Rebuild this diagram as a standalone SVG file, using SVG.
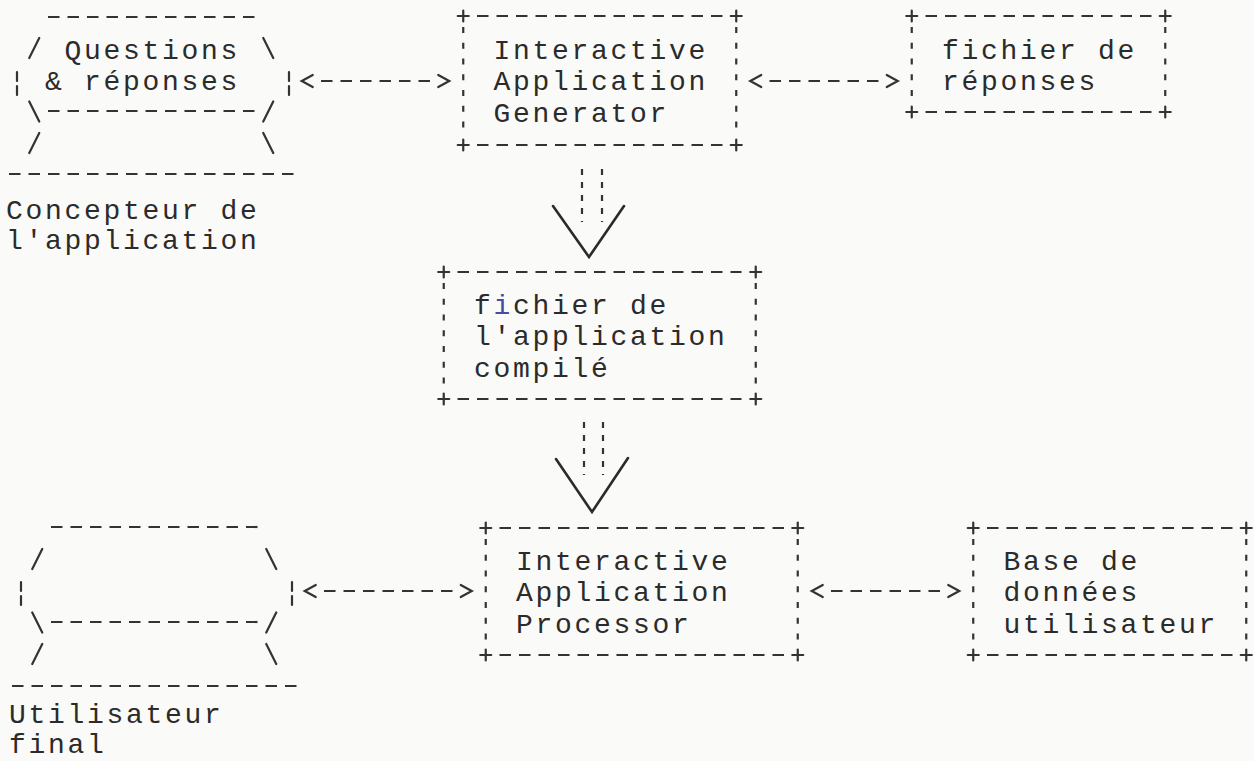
<svg xmlns="http://www.w3.org/2000/svg" xmlns:xlink="http://www.w3.org/1999/xlink" width="1254" height="761" viewBox="0 0 1254 761">
<style>
  .t { font-family: "Liberation Mono", "DejaVu Sans Mono", monospace; font-size: 28px; letter-spacing: 2.7px; fill: #2b2b2b; }
  .d { fill: none; stroke: #333; stroke-width: 2.2; stroke-dasharray: 11.5 8; }
  .v { fill: none; stroke: #333; stroke-width: 2.2; stroke-dasharray: 6 9.75; }
  .s { fill: none; stroke: #333; stroke-width: 2.2; stroke-linecap: round; }
  .dd { fill: none; stroke: #333; stroke-width: 2.2; stroke-dasharray: 6 7; }
  .big { fill: none; stroke: #2b2b2b; stroke-width: 2.6; stroke-linecap: round; stroke-linejoin: miter; }
</style>
<defs>
  <path id="plus" d="M-5.5,0 H5.5 M0,-5.5 V5.5" class="s"/>
  <path id="chevL" d="M5.5,-6 L-5.5,0 L5.5,6" class="s"/>
  <path id="chevR" d="M-5.5,-6 L5.5,0 L-5.5,6" class="s"/>
  <path id="bar" d="M0,-11 V-2 M0,3 V12" class="s"/>
</defs>
<rect x="0" y="0" width="1254" height="761" fill="#fafaf8"/>

<!-- Concepteur de l'application (top hexagon) -->
<g id="concepteur">
  <path class="d" d="M48,17 H254.5"/>
  <path class="s" d="M29.25,58 L39.25,38 M263.25,38 L273.25,58"/>
  <use xlink:href="#bar" x="17" y="83"/>
  <use xlink:href="#bar" x="289" y="83"/>
  <path class="s" d="M29.25,101.5 L39.25,121.5 M263.25,121.5 L273.25,101.5"/>
  <path class="d" d="M48,111 H254.5"/>
  <path class="s" d="M29.25,153 L39.25,133 M263.25,133 L273.25,153"/>
  <path class="d" d="M9,174 H293.5"/>
  <text class="t" x="64.5" y="58.5">Questions</text>
  <text class="t" x="45" y="90">&amp; réponses</text>
  <text class="t" x="6" y="219">Concepteur de</text>
  <text class="t" x="6" y="249">l'application</text>
</g>

<!-- Interactive Application Generator -->
<g id="generator">
  <use xlink:href="#plus" x="463.25" y="16"/>
  <use xlink:href="#plus" x="736.25" y="16"/>
  <use xlink:href="#plus" x="463.25" y="145"/>
  <use xlink:href="#plus" x="736.25" y="145"/>
  <path class="d" d="M477,16 H722.5 M477,145 H722.5"/>
  <path class="v" d="M463.25,27 V137 M736.25,27 V137"/>
  <text class="t" x="493.5" y="58.5">Interactive</text>
  <text class="t" x="493.5" y="90">Application</text>
  <text class="t" x="493.5" y="121.5">Generator</text>
</g>

<!-- fichier de réponses -->
<g id="fichier-reponses">
  <use xlink:href="#plus" x="911.75" y="16"/>
  <use xlink:href="#plus" x="1165.25" y="16"/>
  <use xlink:href="#plus" x="911.75" y="112"/>
  <use xlink:href="#plus" x="1165.25" y="112"/>
  <path class="d" d="M925.5,16 H1151.5 M925.5,112 H1151.5"/>
  <path class="v" d="M911.75,27 V104 M1165.25,27 V104"/>
  <text class="t" x="942" y="58.5">fichier de</text>
  <text class="t" x="942" y="90">réponses</text>
</g>

<!-- fichier de l'application compilé -->
<g id="fichier-compile">
  <use xlink:href="#plus" x="443.75" y="272"/>
  <use xlink:href="#plus" x="755.75" y="272"/>
  <use xlink:href="#plus" x="443.75" y="399"/>
  <use xlink:href="#plus" x="755.75" y="399"/>
  <path class="d" d="M457.5,272 H741.5 M457.5,399 H741.5"/>
  <path class="v" d="M443.75,283 V391 M755.75,283 V391"/>
  <text class="t" x="474" y="313.5">f<tspan fill="#4a4aa8">i</tspan>chier de</text>
  <text class="t" x="474" y="345">l'application</text>
  <text class="t" x="474" y="376.5">compilé</text>
</g>

<!-- Utilisateur final (bottom hexagon) -->
<g id="utilisateur">
  <path class="d" d="M51,527 H257.5"/>
  <path class="s" d="M32.25,569 L42.25,549 M266.25,549 L276.25,569"/>
  <use xlink:href="#bar" x="21" y="593"/>
  <use xlink:href="#bar" x="292" y="593"/>
  <path class="s" d="M32.25,612.5 L42.25,632.5 M266.25,632.5 L276.25,612.5"/>
  <path class="d" d="M51,622 H257.5"/>
  <path class="s" d="M32.25,664 L42.25,644 M266.25,644 L276.25,664"/>
  <path class="d" d="M12,686 H296.5"/>
  <text class="t" x="9" y="723">Utilisateur</text>
  <text class="t" x="9" y="753">final</text>
</g>

<!-- Interactive Application Processor -->
<g id="processor">
  <use xlink:href="#plus" x="485.75" y="528"/>
  <use xlink:href="#plus" x="797.75" y="528"/>
  <use xlink:href="#plus" x="485.75" y="655"/>
  <use xlink:href="#plus" x="797.75" y="655"/>
  <path class="d" d="M499.5,528 H784 M499.5,655 H784"/>
  <path class="v" d="M485.75,539 V647 M797.75,539 V647"/>
  <text class="t" x="516" y="569.5">Interactive</text>
  <text class="t" x="516" y="601">Application</text>
  <text class="t" x="516" y="632.5">Processor</text>
</g>

<!-- Base de données utilisateur -->
<g id="base-donnees">
  <use xlink:href="#plus" x="973.25" y="528"/>
  <use xlink:href="#plus" x="1246.25" y="528"/>
  <use xlink:href="#plus" x="973.25" y="655"/>
  <use xlink:href="#plus" x="1246.25" y="655"/>
  <path class="d" d="M987,528 H1232.5 M987,655 H1232.5"/>
  <path class="v" d="M973.25,539 V647 M1246.25,539 V647"/>
  <text class="t" x="1003.5" y="569.5">Base de</text>
  <text class="t" x="1003.5" y="601">données</text>
  <text class="t" x="1003.5" y="632.5">utilisateur</text>
</g>

<!-- connectors -->
<g id="connectors">
  <g id="c-concepteur-generator">
    <use xlink:href="#chevL" x="307.25" y="81"/>
    <path class="d" d="M321,81 H430"/>
    <use xlink:href="#chevR" x="443.75" y="81"/>
  </g>
  <g id="c-generator-reponses">
    <use xlink:href="#chevL" x="755.75" y="81"/>
    <path class="d" d="M769.5,81 H878.5"/>
    <use xlink:href="#chevR" x="892.25" y="81"/>
  </g>
  <g id="c-generator-compile">
    <path class="dd" d="M582,169 V222 M602,169 V222"/>
    <path class="big" d="M553,206 L589,257 L624,206"/>
  </g>
  <g id="c-compile-processor">
    <path class="dd" d="M584,422 V475 M603,422 V475"/>
    <path class="big" d="M556,459 L592,512 L628,458"/>
  </g>
  <g id="c-utilisateur-processor">
    <use xlink:href="#chevL" x="310.25" y="591"/>
    <path class="d" d="M324,591 H452.5"/>
    <use xlink:href="#chevR" x="466.25" y="591"/>
  </g>
  <g id="c-processor-base">
    <use xlink:href="#chevL" x="817.25" y="591"/>
    <path class="d" d="M831,591 H940"/>
    <use xlink:href="#chevR" x="953.75" y="591"/>
  </g>
</g>
</svg>
